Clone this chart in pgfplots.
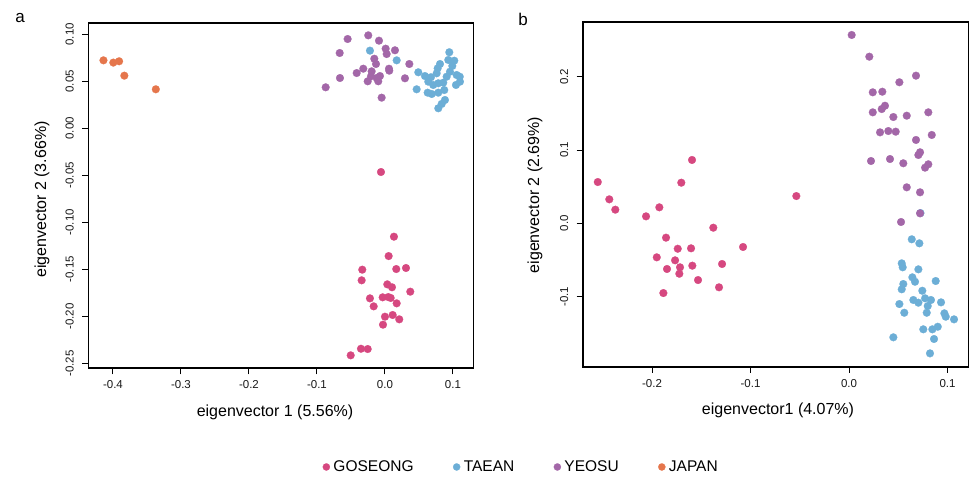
\documentclass[border=0pt]{standalone}
\usepackage{fontspec}
\setmainfont{Liberation Sans}
\usepackage{pgfplots}
\pgfplotsset{compat=1.18}

\definecolor{goseong}{RGB}{214,72,128}
\definecolor{taean}{RGB}{108,174,214}
\definecolor{yeosu}{RGB}{163,103,168}
\definecolor{japan}{RGB}{229,118,76}

\pgfplotsset{
  pca/.style={
    scale only axis,
    separate axis lines,
    axis line style={line width=1.6pt,line cap=rect},
    tick pos=left, tick align=outside,
    major tick length=6pt,
    major tick style={line width=1pt,black},
    ticklabel style={font=\fontsize{11.5}{13}\selectfont,text=black!90},
    yticklabel style={rotate=90,anchor=south},
    xticklabel shift=3pt, yticklabel shift=5pt,
    label style={font=\fontsize{16}{19}\selectfont},
    legend image code/.code={\draw[#1,mark size=3.6pt,line width=0.2pt] plot coordinates {(0pt,0pt)};},
  },
  dot/.style={only marks,mark=*,mark size=3.9pt,color=#1,
    mark options={draw=#1,fill=#1,line width=0.2pt}},
}

\begin{document}
\begin{tikzpicture}
\useasboundingbox (0,0) rectangle (971pt,-478pt);
\node[font=\fontsize{17}{20}\selectfont] at (20pt,-18pt) {a};
\node[font=\fontsize{17}{20}\selectfont] at (523pt,-19pt) {b};

% ---------- panel a ----------
\begin{axis}[pca,
  at={(88.3pt,-23.3pt)}, anchor=north west,
  width=385pt, height=345pt,
  xmin=-0.4363, xmax=0.1299, ymin=-0.2553, ymax=0.1117,
  xtick={-0.4,-0.3,-0.2,-0.1,0,0.1},
  xticklabels={-0.4,-0.3,-0.2,-0.1,0.0,0.1},
  ytick={-0.25,-0.2,-0.15,-0.1,-0.05,0,0.05,0.1},
  yticklabels={-0.25,-0.20,-0.15,-0.10,-0.05,0.00,0.05,0.10},
  xlabel={eigenvector 1 (5.56\%)},
  ylabel={eigenvector 2 (3.66\%)},
  xlabel style={at={(axis description cs:0.485,-0.127)},anchor=center},
  ylabel style={at={(axis description cs:-0.120,0.489)},anchor=center},
  legend columns=4,
  legend style={at={(axis description cs:1.1265,-0.286)},anchor=center,
    draw=none,fill=none,font=\fontsize{15.5}{18}\selectfont,
    nodes={inner xsep=3.5pt},
    /tikz/every even column/.append style={column sep=36pt}},
]
\addplot[dot=goseong] coordinates {
  (-0.0059,-0.0465) (0.0132,-0.1153) (0.0054,-0.1359) (-0.0334,-0.1504)
  (0.0166,-0.1497) (0.0309,-0.1486) (-0.0343,-0.1617) (0.0034,-0.1660)
  (0.0103,-0.1691) (0.0372,-0.1738) (-0.0221,-0.1809) (-0.0034,-0.1798)
  (0.0049,-0.1795) (0.0084,-0.1805) (-0.0166,-0.1894) (0.0172,-0.1862)
  (0.0000,-0.2004) (0.0113,-0.1986) (0.0210,-0.2032) (-0.0029,-0.2089)
  (-0.0353,-0.2345) (-0.0254,-0.2348) (-0.0504,-0.2415)
};
\addlegendentry{GOSEONG}
\addplot[dot=taean] coordinates {
  (0.0946,0.0809) (0.1019,0.0719) (0.0990,0.0663) (0.0809,0.0684)
  (0.0775,0.0638) (0.0490,0.0596) (0.0588,0.0556) (0.0676,0.0543)
  (0.0760,0.0585) (0.0907,0.0549) (0.1054,0.0567) (0.1103,0.0496)
  (0.1044,0.0461) (0.0857,0.0485) (0.0784,0.0479) (0.0710,0.0461)
  (0.0637,0.0496) (0.0466,0.0415) (0.0628,0.0379) (0.0687,0.0365)
  (0.0784,0.0379) (0.0872,0.0407) (0.0882,0.0301) (0.0834,0.0259)
  (0.0784,0.0213) (0.0956,0.0602) (0.0931,0.0727) (-0.0221,0.0826)
  (0.0172,0.0723) (0.1100,0.0549)
};
\addlegendentry{TAEAN}
\addplot[dot=yeosu] coordinates {
  (-0.0549,0.0950) (-0.0246,0.0989) (-0.0088,0.0932) (-0.0666,0.0801)
  (0.0010,0.0847) (0.0147,0.0830) (0.0025,0.0790) (-0.0157,0.0740)
  (-0.0132,0.0684) (0.0059,0.0634) (-0.0319,0.0634) (-0.0416,0.0588)
  (-0.0196,0.0606) (-0.0662,0.0535) (-0.0254,0.0500) (-0.0122,0.0535)
  (-0.0099,0.0500) (-0.0206,0.0553) (-0.0872,0.0436) (-0.0049,0.0326)
  (0.0294,0.0532) (0.0358,0.0684) (-0.0074,0.0556) (0.0063,0.0613)
};
\addlegendentry{YEOSU}
\addplot[dot=japan] coordinates {
  (-0.4140,0.0723) (-0.3995,0.0699) (-0.3910,0.0713) (-0.3833,0.0560)
  (-0.3370,0.0415)
};
\addlegendentry{JAPAN}
\end{axis}

% ---------- panel b ----------
\begin{axis}[pca,
  at={(582.7pt,-22.3pt)}, anchor=north west,
  width=385.6pt, height=344.4pt,
  xmin=-0.2704, xmax=0.1211, ymin=-0.1956, ymax=0.2742,
  xtick={-0.2,-0.1,0,0.1},
  xticklabels={-0.2,-0.1,0.0,0.1},
  ytick={-0.1,0,0.1,0.2},
  yticklabels={-0.1,0.0,0.1,0.2},
  xlabel={eigenvector1 (4.07\%)},
  ylabel={eigenvector 2 (2.69\%)},
  xlabel style={at={(axis description cs:0.5065,-0.127)},anchor=center},
  ylabel style={at={(axis description cs:-0.124,0.4985)},anchor=center},
]
\addplot[dot=goseong] coordinates {
  (-0.2551,0.0563) (-0.2434,0.0327) (-0.2373,0.0186) (-0.2061,0.0095)
  (-0.1926,0.0218) (-0.1594,0.0864) (-0.1703,0.0554) (-0.1378,-0.0060)
  (-0.1858,-0.0196) (-0.1739,-0.0347) (-0.1604,-0.0341) (-0.1076,-0.0323)
  (-0.1952,-0.0464) (-0.1766,-0.0505) (-0.1848,-0.0623) (-0.1716,-0.0600)
  (-0.1591,-0.0578) (-0.1723,-0.0688) (-0.1289,-0.0555) (-0.1533,-0.0774)
  (-0.1320,-0.0873) (-0.1885,-0.0951) (-0.0535,0.0372)
};
\addplot[dot=taean] coordinates {
  (0.0725,0.0140) (0.0637,-0.0218) (0.0714,-0.0273) (0.0535,-0.0546)
  (0.0545,-0.0600) (0.0704,-0.0628) (0.0643,-0.0737) (0.0670,-0.0797)
  (0.0880,-0.0787) (0.0551,-0.0828) (0.0535,-0.0900) (0.0744,-0.0920)
  (0.0653,-0.1046) (0.0704,-0.1083) (0.0772,-0.1023) (0.0832,-0.1046)
  (0.0934,-0.1078) (0.0511,-0.1101) (0.0799,-0.1128) (0.0789,-0.1220)
  (0.0561,-0.1220) (0.0968,-0.1228) (0.0982,-0.1274) (0.1066,-0.1310)
  (0.0754,-0.1446) (0.0846,-0.1446) (0.0901,-0.1411) (0.0863,-0.1578)
  (0.0450,-0.1555) (0.0822,-0.1774)
};
\addplot[dot=yeosu] coordinates {
  (0.0027,0.2569) (0.0206,0.2273) (0.0680,0.2014) (0.0511,0.1924)
  (0.0241,0.1787) (0.0338,0.1795) (0.0365,0.1604) (0.0332,0.1559)
  (0.0241,0.1514) (0.0450,0.1450) (0.0586,0.1468) (0.0805,0.1514)
  (0.0315,0.1241) (0.0399,0.1259) (0.0474,0.1250) (0.0840,0.1205)
  (0.0680,0.1137) (0.0721,0.0969) (0.0704,0.0932) (0.0223,0.0850)
  (0.0416,0.0877) (0.0551,0.0819) (0.0805,0.0805) (0.0772,0.0759)
  (0.0586,0.0491) (0.0721,0.0423) (0.0721,0.0136) (0.0528,0.0018)
};
\end{axis}
\end{tikzpicture}
\end{document}
